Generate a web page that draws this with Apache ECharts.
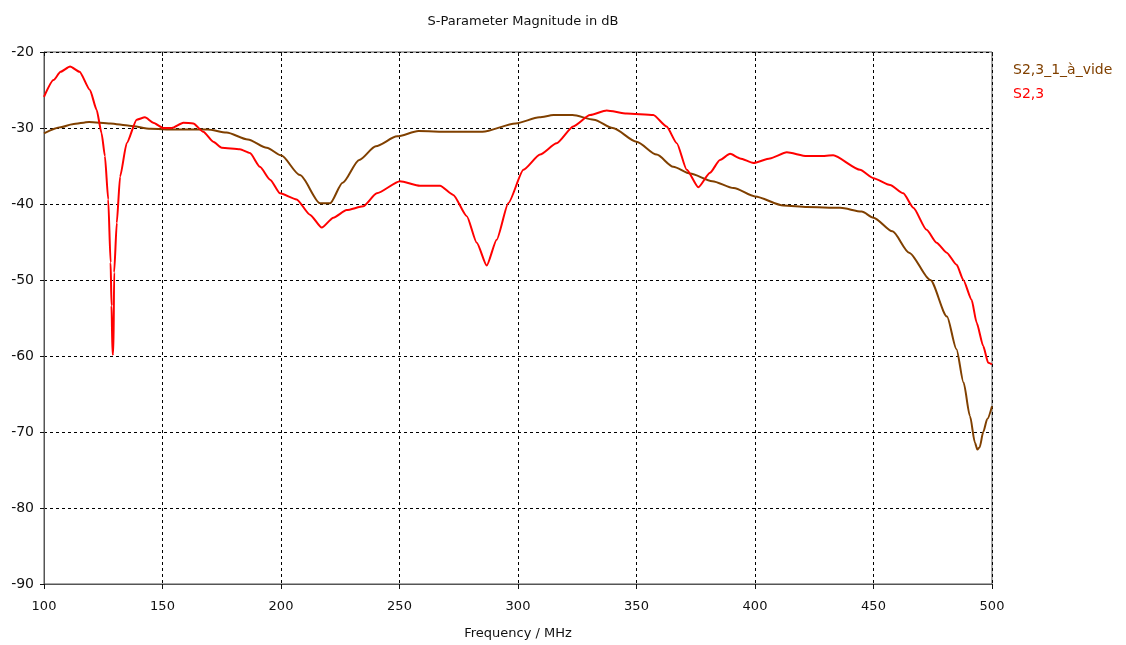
<!DOCTYPE html>
<html>
<head>
<meta charset="utf-8">
<script src="https://cdn.jsdelivr.net/npm/echarts@6/dist/echarts.min.js"></script>
<style>html,body{margin:0;padding:0;background:#fff}#c{width:1126px;height:645px}</style>
</head>
<body>
<div id="c"></div>
<script>
const titleText = 'S-Parameter Magnitude in dB';
const xAxisName = 'Frequency / MHz';
const seriesNames = ['S2,3_1_à_vide', 'S2,3'];
const seriesColors = ['#804000', '#ff0000'];

const brownFreq = [100,107,112,119,128,136,145,155,169,177,186,194,200,208,216.5,220.7,226,233,240,249,258,271,285,299,309,315,323,332,340,350,358.5,365.5,372.6,382,391,400,412,422,436,445,450,458,465,474,481,485,488,490.7,492.8,493.8,494.8,496.3,498,500];
const brownDb = [-30.7,-29.9,-29.5,-29.2,-29.4,-29.7,-30.1,-30.2,-30.2,-30.6,-31.5,-32.6,-33.6,-36.2,-39.9,-39.9,-37.2,-34.2,-32.4,-31.1,-30.4,-30.5,-30.5,-29.4,-28.6,-28.3,-28.3,-28.9,-30,-31.8,-33.5,-35.1,-36,-37,-37.9,-39,-40.2,-40.4,-40.5,-41,-41.8,-43.6,-46.4,-50,-54.8,-59.1,-63.5,-67.9,-71.4,-72.3,-72,-70,-68.3,-66.6];

const redFreq = [100,104,107,111,115,119.4,122.2,124.3,125.7,127.1,128.1,128.5,128.9,129.3,129.6,130.7,132.1,134.9,139.1,142.6,146.1,150.3,153.9,158.8,163,167.2,171.4,175,182.7,186.9,191.1,195.4,199.6,206.6,212.2,217.2,222.1,227.7,234.7,240.4,250.2,258.6,267.1,272.7,278.4,282.6,286.8,291,295.9,302.3,309.3,316.3,323.3,330.4,337.4,345.9,357.1,362.7,367,371.2,376.1,381,385.2,389.5,393.7,399.3,406.3,413.4,421.8,427.4,433,444.3,450,457,462.6,466.8,472.4,476.6,480.9,485.1,487.9,491.4,493.5,496.3,498.4,500];
const redDb = [-25.9,-23.7,-22.6,-21.9,-22.6,-25,-27.6,-30.7,-33.7,-39.4,-47.7,-53.4,-59.8,-59.6,-49,-42.5,-36.4,-32,-28.9,-28.6,-29.3,-30,-30,-29.3,-29.4,-30.5,-31.8,-32.6,-32.8,-33.3,-35.1,-36.8,-38.6,-39.4,-41.4,-43.1,-41.8,-40.8,-40.3,-38.6,-37,-37.6,-37.6,-38.8,-41.6,-45.1,-48.1,-44.7,-39.9,-35.5,-33.5,-32,-29.8,-28.3,-27.7,-28.1,-28.3,-29.8,-32,-35.5,-37.8,-35.9,-34.2,-33.4,-34,-34.6,-34,-33.2,-33.7,-33.7,-33.6,-35.5,-36.6,-37.5,-38.6,-40.5,-43.4,-45.1,-46.4,-48,-50,-52.6,-55.6,-58.7,-60.9,-61.1];

const pair = (xs, ys) => xs.map((x, i) => [x, ys[i]]);
const font = 'Tahoma, "DejaVu Sans", sans-serif';
const axisCol = '#555555';

const chart = echarts.init(document.getElementById('c'));
chart.setOption({
  animation: false,
  backgroundColor: '#fff',
  title: {
    text: titleText, left: 518, top: 10, textAlign: 'center',
    textStyle: { fontFamily: font, fontSize: 13, fontWeight: 'normal', color: '#111' }
  },
  legend: {
    orient: 'vertical', left: 1008, top: 58, itemWidth: 0, itemHeight: 0, itemGap: 10,
    icon: 'none', selectedMode: false,
    data: seriesNames.map((n, i) => ({ name: n, textStyle: { color: seriesColors[i] } })),
    textStyle: { fontFamily: font, fontSize: 14, padding: [0,0,0,-5] }
  },
  grid: { left: 44, right: 134, top: 52, bottom: 60, show: true, borderColor: axisCol, borderWidth: 1 },
  xAxis: [{
    type: 'value', min: 100, max: 500, interval: 50,
    name: xAxisName, nameLocation: 'middle', nameGap: 43,
    nameTextStyle: { fontFamily: font, fontSize: 13, color: '#111' },
    axisLine: { show: true, lineStyle: { color: axisCol } },
    axisTick: { show: true, inside: false, length: 5, lineStyle: { color: '#111' } },
    axisLabel: { fontFamily: font, fontSize: 13, color: '#111', margin: 16 },
    splitLine: { show: true, lineStyle: { color: '#000', type: [3, 3], width: 1 } }
  }, {
    type: 'value', min: 100, max: 500, interval: 50, position: 'top',
    axisLine: { show: false }, axisLabel: { show: false },
    axisTick: { show: true, inside: true, length: 4, lineStyle: { color: '#111' } },
    splitLine: { show: false }
  }],
  yAxis: {
    type: 'value', min: -90, max: -20, interval: 10,
    axisLine: { show: true, lineStyle: { color: axisCol } },
    axisTick: { show: true, inside: false, length: 4, lineStyle: { color: '#111' } },
    axisLabel: { fontFamily: font, fontSize: 14, color: '#111', margin: 10 },
    splitLine: { show: true, lineStyle: { color: '#000', type: [3, 3], width: 1 } }
  },
  series: [
    { name: seriesNames[0], type: 'line', data: pair(brownFreq, brownDb), showSymbol: false,
      smooth: 0.25, smoothMonotone: 'x', lineStyle: { color: seriesColors[0], width: 2 }, itemStyle: { color: seriesColors[0] } },
    { name: seriesNames[1], type: 'line', data: pair(redFreq, redDb), showSymbol: false,
      smooth: 0.2, smoothMonotone: 'x', lineStyle: { color: seriesColors[1], width: 2 }, itemStyle: { color: seriesColors[1] } }
  ]
});
</script>
</body>
</html>
